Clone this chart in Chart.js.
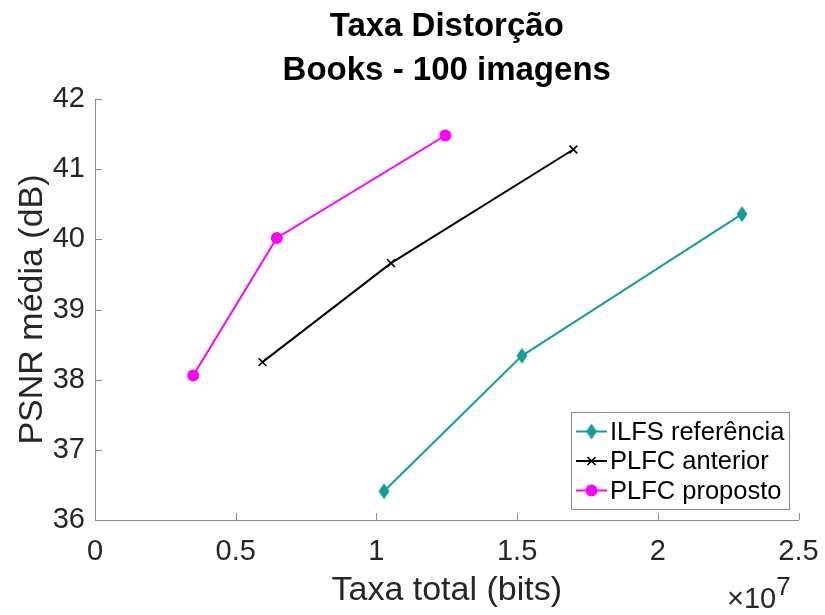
<!DOCTYPE html>
<html>
<head>
<meta charset="utf-8">
<script src="https://cdn.jsdelivr.net/npm/chart.js@4/dist/chart.umd.min.js"></script>
<style>
  html, body { margin: 0; padding: 0; background: #fff; }
  #wrap { width: 825px; height: 615px; }
</style>
</head>
<body>
<div id="wrap"><canvas id="c" width="825" height="615"></canvas></div>
<script>
// Rate (×10^7 bits) and mean PSNR (dB) per method
const rateIlfs = [1.027, 1.517, 2.299];
const psnrIlfs = [36.41, 38.34, 40.36];
const ratePlfcAnterior = [0.595, 1.052, 1.700];
const psnrPlfcAnterior = [38.25, 39.66, 41.28];
const ratePlfcProposto = [0.349, 0.646, 1.245];
const psnrPlfcProposto = [38.06, 40.02, 41.48];

const seriesNames = ['ILFS referência', 'PLFC anterior', 'PLFC proposto'];
const titleLines = ['Taxa Distorção', 'Books - 100 imagens'];
const xTicks = [0, 0.5, 1, 1.5, 2, 2.5];
const yTicks = [36, 37, 38, 39, 40, 41, 42];

const FONT = '"Liberation Sans", Arial, sans-serif';
const TEAL = '#139e9c';
const MAGENTA = '#ff00ff';
const BLACK = '#000000';
const TEXT = '#262626';
const AXIS = '#8a8a8a';

function toPoints(xs, ys) { return xs.map((x, i) => ({ x: x, y: ys[i] })); }

// narrow diamond marker
function diamondCanvas(color) {
  const c = document.createElement('canvas');
  c.width = 12; c.height = 17;
  const g = c.getContext('2d');
  g.fillStyle = color;
  g.beginPath();
  g.moveTo(6, 0.5); g.lineTo(11.5, 8.5); g.lineTo(6, 16.5); g.lineTo(0.5, 8.5);
  g.closePath(); g.fill();
  return c;
}
const diamond = diamondCanvas(TEAL);

function drawMarker(ctx, kind, x, y, color) {
  ctx.save();
  ctx.fillStyle = color; ctx.strokeStyle = color;
  if (kind === 'diamond') {
    ctx.drawImage(diamond, x - 6, y - 8.5);
  } else if (kind === 'circle') {
    ctx.beginPath(); ctx.arc(x, y, 6, 0, Math.PI * 2); ctx.fill();
  } else {
    ctx.lineWidth = 1.6;
    ctx.beginPath();
    ctx.moveTo(x - 4, y - 4); ctx.lineTo(x + 4, y + 4);
    ctx.moveTo(x + 4, y - 4); ctx.lineTo(x - 4, y + 4);
    ctx.stroke();
  }
  ctx.restore();
}

const markerKinds = ['diamond', 'cross', 'circle'];

const decorations = {
  id: 'decorations',
  afterDraw(chart) {
    const ctx = chart.ctx;
    const xs = chart.scales.x, ys = chart.scales.y;
    const area = chart.chartArea;
    ctx.save();
    // inward tick marks
    ctx.strokeStyle = AXIS; ctx.lineWidth = 1;
    ctx.beginPath();
    xTicks.forEach(v => {
      const px = Math.round(xs.getPixelForValue(v)) + 0.5;
      ctx.moveTo(px, area.bottom); ctx.lineTo(px, area.bottom - 7);
    });
    yTicks.forEach(v => {
      const py = Math.round(ys.getPixelForValue(v)) + 0.5;
      ctx.moveTo(area.left, py); ctx.lineTo(area.left + 7, py);
    });
    ctx.stroke();

    // title
    ctx.fillStyle = '#000';
    ctx.textAlign = 'center';
    ctx.textBaseline = 'alphabetic';
    ctx.font = 'bold 33px ' + FONT;
    const cx = (area.left + area.right) / 2;
    ctx.fillText(titleLines[0], cx, 36);
    ctx.fillText(titleLines[1], cx, 80);

    // exponent label
    ctx.fillStyle = TEXT;
    ctx.textAlign = 'left';
    ctx.font = '29px ' + FONT;
    ctx.fillText('\u00d710', 727, 608);
    const w = ctx.measureText('\u00d710').width;
    ctx.font = '26px ' + FONT;
    ctx.fillText('7', 727 + w, 595);

    // legend
    const lx = 571, ly = 412, lw = 218, lh = 97;
    ctx.fillStyle = '#fff';
    ctx.fillRect(lx, ly, lw, lh);
    ctx.strokeStyle = '#8a8a8a'; ctx.lineWidth = 1;
    ctx.strokeRect(lx + 0.5, ly + 0.5, lw, lh);
    ctx.font = '25.5px ' + FONT;
    ctx.textBaseline = 'middle';
    chart.data.datasets.forEach((ds, i) => {
      const y = 431.5 + i * 29.5;
      ctx.strokeStyle = ds.borderColor; ctx.lineWidth = 2;
      ctx.beginPath(); ctx.moveTo(576, y); ctx.lineTo(607, y); ctx.stroke();
      drawMarker(ctx, markerKinds[i], 591.5, y, ds.borderColor);
      ctx.fillStyle = '#000';
      ctx.fillText(ds.label, 610, y + 1);
    });
    ctx.restore();
  }
};

new Chart(document.getElementById('c'), {
  type: 'scatter',
  data: {
    datasets: [
      {
        label: seriesNames[0], data: toPoints(rateIlfs, psnrIlfs),
        showLine: true, borderColor: TEAL, backgroundColor: TEAL, borderWidth: 2,
        pointStyle: diamond, pointRadius: 8
      },
      {
        label: seriesNames[1], data: toPoints(ratePlfcAnterior, psnrPlfcAnterior),
        showLine: true, borderColor: BLACK, backgroundColor: BLACK, borderWidth: 2,
        pointStyle: 'crossRot', pointRadius: 5.5, pointBorderWidth: 1.6
      },
      {
        label: seriesNames[2], data: toPoints(ratePlfcProposto, psnrPlfcProposto),
        showLine: true, borderColor: MAGENTA, backgroundColor: MAGENTA, borderWidth: 2,
        pointStyle: 'circle', pointRadius: 6, pointBorderWidth: 0
      }
    ]
  },
  options: {
    responsive: false,
    animation: false,
    devicePixelRatio: 1,
    layout: { padding: { top: 99, right: 26.5, left: 0, bottom: 0 } },
    plugins: { legend: { display: false }, title: { display: false }, tooltip: { enabled: false } },
    scales: {
      x: {
        type: 'linear', min: 0, max: 2.5,
        afterBuildTicks(s) { s.ticks = xTicks.map(v => ({ value: v })); },
        afterFit(s) { s.height = 95; s.paddingLeft = 0; s.paddingRight = 0; },
        grid: { display: false, drawTicks: false },
        border: { display: true, color: AXIS, width: 1 },
        ticks: { font: { family: FONT, size: 29 }, color: TEXT, padding: 15, maxRotation: 0, autoSkip: false,
                 callback: v => String(v) },
        title: { display: true, text: 'Taxa total (bits)', font: { family: FONT, size: 34 }, color: TEXT,
                 padding: { top: 0, bottom: 4 } }
      },
      y: {
        type: 'linear', min: 36, max: 42,
        afterBuildTicks(s) { s.ticks = yTicks.map(v => ({ value: v })); },
        afterFit(s) { s.width = 95; s.paddingTop = 0; s.paddingBottom = 0; },
        grid: { display: false, drawTicks: false },
        border: { display: true, color: AXIS, width: 1 },
        ticks: { font: { family: FONT, size: 29 }, color: TEXT, padding: 10, autoSkip: false,
                 callback: v => String(v) },
        title: { display: true, text: 'PSNR média (dB)', font: { family: FONT, size: 34 }, color: TEXT,
                 padding: { top: 12, bottom: 0 } }
      }
    }
  },
  plugins: [decorations]
});
</script>
</body>
</html>
